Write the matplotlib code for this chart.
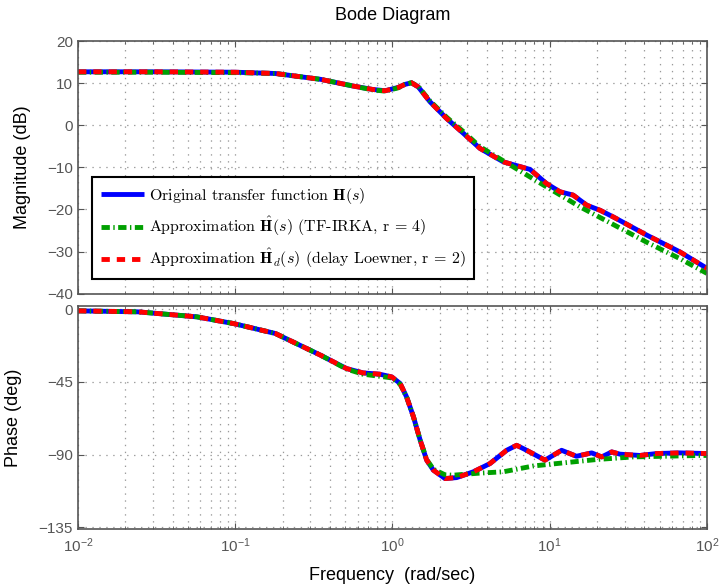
import matplotlib
matplotlib.use('Agg')
import matplotlib.pyplot as plt
from matplotlib.font_manager import FontProperties
from matplotlib.ticker import LogLocator, NullFormatter, FixedLocator

plt.rcParams['font.family'] = ['Liberation Sans', 'DejaVu Sans']
plt.rcParams['lines.scale_dashes'] = False

# ---------------- data ----------------
orig_mag_w = [0.01, 0.03, 0.1, 0.18, 0.35, 0.565, 0.75, 0.9, 1.09, 1.2, 1.32, 1.46,
              1.73, 2.21, 2.82, 3.6, 5.07, 6.3, 7.5, 9.5, 11.6, 14.1, 17.2, 20.9,
              25.4, 41.4, 67.3, 100]
orig_mag = [12.7, 12.7, 12.6, 12.3, 10.9, 9.3, 8.5, 8.2, 9.0, 9.7, 10.1, 9.1,
            5.6, 1.6, -1.9, -5.5, -8.7, -9.7, -10.5, -13.8, -15.8, -16.6, -19.0, -20.2,
            -21.8, -26.1, -30.1, -34.0]

irka_mag_w = [0.01, 0.03, 0.1, 0.18, 0.35, 0.565, 0.75, 0.9, 1.09, 1.2, 1.32, 1.46,
              1.73, 2.21, 2.82, 3.6, 5.87, 9.5, 15.6, 25.4, 41.4, 67.3, 100]
irka_mag = [12.6, 12.6, 12.5, 12.3, 10.9, 9.3, 8.4, 8.1, 8.9, 9.7, 10.1, 9.2,
            5.8, 1.9, -1.5, -5.1, -9.9, -14.6, -19.4, -23.6, -27.8, -31.7, -35.2]

orig_ph_w = [0.01, 0.024, 0.057, 0.098, 0.18, 0.35, 0.51, 0.65, 0.83, 0.99, 1.12, 1.23,
             1.36, 1.50, 1.65, 1.82, 2.16, 2.56, 3.27, 4.17, 5.32, 6.16, 7.13, 9.33,
             11.9, 14.8, 18.5, 21.4, 24.8, 28, 37.5, 47.9, 67.3, 100]
orig_ph = [-1.0, -1.6, -4.7, -8.9, -15.0, -28.5, -36.7, -39.4, -40.2, -41.9, -46.0, -54.3,
           -66.6, -81.0, -93.4, -99.6, -104.8, -104.2, -100.6, -95.5, -87.3, -84.2, -87.3, -93.4,
           -87.3, -91.0, -88.9, -91.4, -88.3, -89.7, -90.5, -89.3, -88.9, -89.3]

irka_ph_w = [0.01, 0.024, 0.057, 0.098, 0.18, 0.35, 0.51, 0.65, 0.83, 0.99, 1.12, 1.23,
             1.36, 1.50, 1.65, 1.82, 2.16, 2.44, 3.5, 5.07, 7.87, 11.1, 19.9, 34, 90, 100]
irka_ph = [-1.0, -1.6, -4.7, -8.9, -15.0, -28.5, -37.0, -40.2, -41.5, -42.5, -46.5, -54.3,
           -66.6, -81.0, -93.0, -99.0, -102.5, -102.7, -101.5, -100.6, -97.0, -95.5, -93.0, -91.4,
           -90.5, -90.5]

loewner_mag_w = list(orig_mag_w)
loewner_mag = list(orig_mag)
loewner_ph_w = list(orig_ph_w)
loewner_ph = list(orig_ph)

labels = [r'Original transfer function $\mathbf{H}(s)$',
          r'Approximation $\hat{\mathbf{H}}(s)$ (TF-IRKA, r = 4)',
          r'Approximation $\hat{\mathbf{H}}_d(s)$ (delay Loewner, r = 2)']

mag_ticks = [20, 10, 0, -10, -20, -30, -40]
ph_ticks = [0, -45, -90, -135]

# ---------------- figure ----------------
fig = plt.figure(figsize=(7.2, 5.86), dpi=100)
ax1 = fig.add_axes([0.1083, 0.499, 0.8736, 0.4309])
ax2 = fig.add_axes([0.1083, 0.0973, 0.8736, 0.3805])

blue = '#0000ff'
green = '#00a000'
red = '#ff0000'
lw = 3.5

def style(ax):
    ax.set_xscale('log')
    ax.set_xlim(1e-2, 1e2)
    ax.xaxis.set_major_locator(LogLocator(base=10, numticks=10))
    ax.xaxis.set_minor_locator(LogLocator(base=10, subs=range(2, 10), numticks=20))
    ax.xaxis.set_minor_formatter(NullFormatter())
    gc = '#9a9a9a'
    ax.grid(True, which='major', axis='both', color=gc, linestyle=(0, (1, 4)), linewidth=0.9)
    ax.grid(True, which='minor', axis='x', color=gc, linestyle=(0, (1, 4)), linewidth=0.9)
    for s in ax.spines.values():
        s.set_color('#555555')
        s.set_linewidth(1.2)
    ax.tick_params(which='both', direction='in', top=True, right=True,
                   colors='#555555', labelcolor='#555555', labelsize=11)
    ax.tick_params(which='major', length=4)
    ax.tick_params(which='minor', length=2.5)
    ax.tick_params(axis='x', pad=5)
    ax.set_axisbelow(True)

for ax in (ax1, ax2):
    style(ax)

ax1.plot(orig_mag_w, orig_mag, color=blue, lw=lw, solid_capstyle='butt', label=labels[0])
ax1.plot(irka_mag_w, irka_mag, color=green, lw=lw, linestyle=(0, (6, 2.5, 1, 2.5)), label=labels[1])
ax1.plot(loewner_mag_w, loewner_mag, color=red, lw=lw, linestyle=(0, (6, 5)), label=labels[2])
ax1.set_ylim(-40, 20)
ax1.yaxis.set_major_locator(FixedLocator(mag_ticks))
ax1.tick_params(axis='x', labelbottom=False)
ax1.set_ylabel('Magnitude (dB)', fontsize=13)
ax1.yaxis.set_label_coords(-0.074, 0.5)

ax2.plot(orig_ph_w, orig_ph, color=blue, lw=lw, solid_capstyle='butt')
ax2.plot(irka_ph_w, irka_ph, color=green, lw=lw, linestyle=(0, (6, 2.5, 1, 2.5)))
ax2.plot(loewner_ph_w, loewner_ph, color=red, lw=lw, linestyle=(0, (6, 5)))
ax2.set_ylim(-136, 2)
ax2.yaxis.set_major_locator(FixedLocator(ph_ticks))
ax2.set_ylabel('Phase (deg)', fontsize=13)
ax2.yaxis.set_label_coords(-0.089, 0.5)
ax2.set_xlabel('Frequency  (rad/sec)', fontsize=13)
ax2.xaxis.set_label_coords(0.5, -0.169)

fig.text(0.545, 0.974, 'Bode Diagram', ha='center', va='center', fontsize=13)

leg_font = FontProperties(family='cmr10', size=11.5, math_fontfamily='cm')
leg = ax1.legend(loc='lower left', bbox_to_anchor=(0.022, 0.057), borderaxespad=0,
                 prop=leg_font, frameon=True, fancybox=False, framealpha=1,
                 edgecolor='black', handlelength=2.7, handletextpad=0.3,
                 labelspacing=0.55, borderpad=0.55)
leg.get_frame().set_linewidth(1.5)

fig.savefig('out.png', dpi=100)
